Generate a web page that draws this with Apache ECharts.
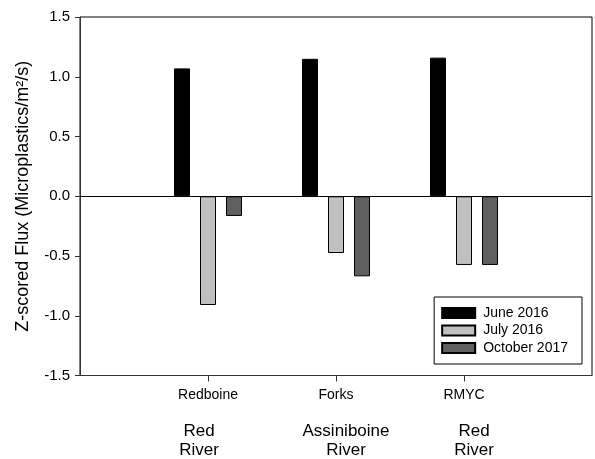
<!DOCTYPE html>
<html>
<head>
<meta charset="utf-8">
<script src="https://cdn.jsdelivr.net/npm/echarts@6/dist/echarts.min.js"></script>
<style>
  html, body { margin: 0; padding: 0; background: #fff; }
  #chart { width: 595px; height: 459px; }
</style>
</head>
<body>
<div id="chart"></div>
<script>
// sites along the x axis, with the river each one sits on
const sites = ['Redboine', 'Forks', 'RMYC']
const rivers = ['Red River', 'Assiniboine River', 'Red River']

// z-scored flux per sampling campaign
const june2016 = [1.07, 1.15, 1.16]
const july2016 = [-0.91, -0.475, -0.575]
const october2017 = [-0.165, -0.67, -0.575]

const yTicks = [-1.5, -1.0, -0.5, 0.0, 0.5, 1.0, 1.5]

const FONT = 'Liberation Sans, Arial, sans-serif'

// empty slots at both ends so the sites sit at 1/4, 2/4, 3/4 of the width
const cats = [''].concat(sites, [''])
const pad = arr => [null].concat(arr, [null])

const chart = echarts.init(document.getElementById('chart'))

function bar(name, data, color) {
  return {
    name: name,
    type: 'bar',
    data: pad(data),
    barWidth: 16,
    barGap: '62.5%',
    itemStyle: { color: color, borderColor: '#000', borderWidth: 1 },
  }
}

const series = [
  bar('June 2016', june2016, '#000000'),
  bar('July 2016', july2016, '#c0c0c0'),
  bar('October 2017', october2017, '#606060'),
]
// horizontal line at zero
series[0].markLine = {
  silent: true,
  symbol: 'none',
  label: { show: false },
  lineStyle: { color: '#000', width: 1, type: 'solid' },
  data: [{ yAxis: 0 }],
}

chart.setOption({
  animation: false,
  textStyle: { fontFamily: FONT },
  grid: {
    left: 80, right: 1, top: 17, bottom: 82,
    show: true, borderColor: '#000', borderWidth: 1,
  },
  legend: {
    orient: 'vertical',
    right: 13,
    top: 297,
    padding: [9, 14, 9, 7],
    icon: 'rect',
    itemWidth: 33,
    itemHeight: 10,
    itemGap: 3.5,
    borderColor: '#000',
    borderWidth: 1,
    textStyle: { fontSize: 14, color: '#000', fontFamily: FONT, padding: [0, 0, 0, 3] },
    data: series.map(s => s.name),
  },
  xAxis: {
    type: 'category',
    data: cats,
    boundaryGap: false,
    axisLine: { onZero: false, lineStyle: { color: '#333', width: 1 } },
    axisTick: {
      show: true,
      length: 6,
      interval: (i) => i > 0 && i < cats.length - 1,
      lineStyle: { color: '#333' },
    },
    axisLabel: {
      interval: 0,
      margin: 10,
      color: '#000',
      formatter: (v, i) => {
        const k = i - 1
        if (k < 0 || k >= sites.length) return ''
        const st = 'r' + k
        const lines = rivers[k].split(' ')
        return '{a|' + v + '}\n{s| }\n' + lines.map(l => '{' + st + '|' + l + '}').join('\n')
      },
      rich: {
        a: { fontSize: 14, lineHeight: 20, color: '#000', fontFamily: FONT },
        s: { fontSize: 4, lineHeight: 16.5 },
        r0: { fontSize: 17, lineHeight: 19, color: '#000', fontFamily: FONT, padding: [0, 18, 0, 0] },
        r1: { fontSize: 17, lineHeight: 19, color: '#000', fontFamily: FONT, padding: [0, 0, 0, 20] },
        r2: { fontSize: 17, lineHeight: 19, color: '#000', fontFamily: FONT, padding: [0, 0, 0, 20] },
      },
    },
    splitLine: { show: false },
  },
  yAxis: {
    type: 'value',
    min: yTicks[0],
    max: yTicks[yTicks.length - 1],
    interval: 0.5,
    name: 'Z-scored Flux (Microplastics/m\u00b2/s)',
    nameLocation: 'middle',
    nameGap: 48,
    nameTextStyle: { fontSize: 18, color: '#000', fontFamily: FONT },
    axisLine: { show: true, lineStyle: { color: '#333', width: 1 } },
    axisTick: { show: true, length: 5, lineStyle: { color: '#333' } },
    axisLabel: {
      margin: 10,
      fontSize: 15,
      color: '#000',
      formatter: v => v.toFixed(1),
    },
    splitLine: { show: false },
  },
  series: series,
})
</script>
</body>
</html>
